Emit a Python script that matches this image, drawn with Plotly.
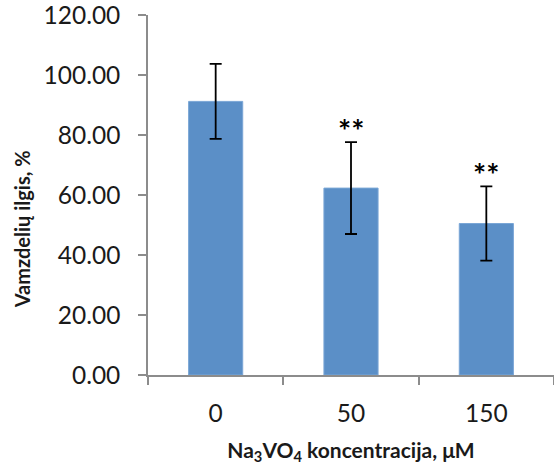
import plotly.graph_objects as go

categories = ["0", "50", "150"]
values = [91.2, 62.3, 50.5]
errors = [12.5, 15.3, 12.4]
significance = ["", "**", "**"]
y_ticks = [0, 20, 40, 60, 80, 100, 120]
y_tick_labels = ["0.00", "20.00", "40.00", "60.00", "80.00", "100.00", "120.00"]

FONT = "Lato"
AXIS_COLOR = "#8c8c8c"
TEXT_COLOR = "#1a1a1a"

fig = go.Figure()
fig.add_trace(go.Bar(
    x=categories,
    y=values,
    marker=dict(color="#5B8FC7", line=dict(color="#7aa6d6", width=1)),
    error_y=dict(type="data", array=errors, visible=True, color="black",
                 thickness=1.8, width=6),
    width=0.4,
))

for i, (v, e, s) in enumerate(zip(values, errors, significance)):
    if s:
        fig.add_annotation(x=i, y=v + e, text="<b>" + s + "</b>", showarrow=False,
                           xref="x", yref="y",
                           yanchor="middle", yshift=12,
                           font=dict(family=FONT, size=31, color="black"))

# y axis title (placed like the reference, slightly below plot centre)
fig.add_annotation(x=-0.31, y=0.405, xref="paper", yref="paper", xanchor="center", yanchor="middle",
                   text="<b>Vamzdelių ilgis, %</b>", textangle=-90, showarrow=False,
                   font=dict(family=FONT, size=20, color=TEXT_COLOR))

fig.update_layout(
    width=554, height=465,
    margin=dict(l=148, r=0, t=15, b=90, autoexpand=False),
    paper_bgcolor="white", plot_bgcolor="white",
    showlegend=False,
    font=dict(family=FONT, color=TEXT_COLOR),
    xaxis=dict(
        type="category",
        categoryorder="array", categoryarray=categories,
        range=[-0.5, len(categories) - 0.5],
        automargin=False,
        showline=True, linecolor=AXIS_COLOR, linewidth=1.5,
        ticks="outside", tickson="boundaries", ticklen=8, tickcolor=AXIS_COLOR, tickwidth=1.5,
        tickfont=dict(family=FONT, size=24.5, color=TEXT_COLOR),
        tickangle=0, ticklabelstandoff=16,
        title=dict(text="<b>Na<sub>3</sub>VO<sub>4</sub> koncentracija, μM</b>",
                   font=dict(family=FONT, size=21, color=TEXT_COLOR), standoff=27),
        showgrid=False,
    ),
    yaxis=dict(
        range=[0, 120],
        automargin=False,
        tickvals=y_ticks, ticktext=y_tick_labels,
        showline=True, linecolor=AXIS_COLOR, linewidth=1.5,
        ticks="outside", ticklen=8, tickcolor=AXIS_COLOR, tickwidth=1.5,
        tickfont=dict(family=FONT, size=24.5, color=TEXT_COLOR),
        ticklabelstandoff=13, ticklabeloverflow="allow",
        showgrid=False, zeroline=False,
    ),
)

fig.write_html("out.html", config={"displayModeBar": False},
               post_script="document.body.style.margin='0';")
